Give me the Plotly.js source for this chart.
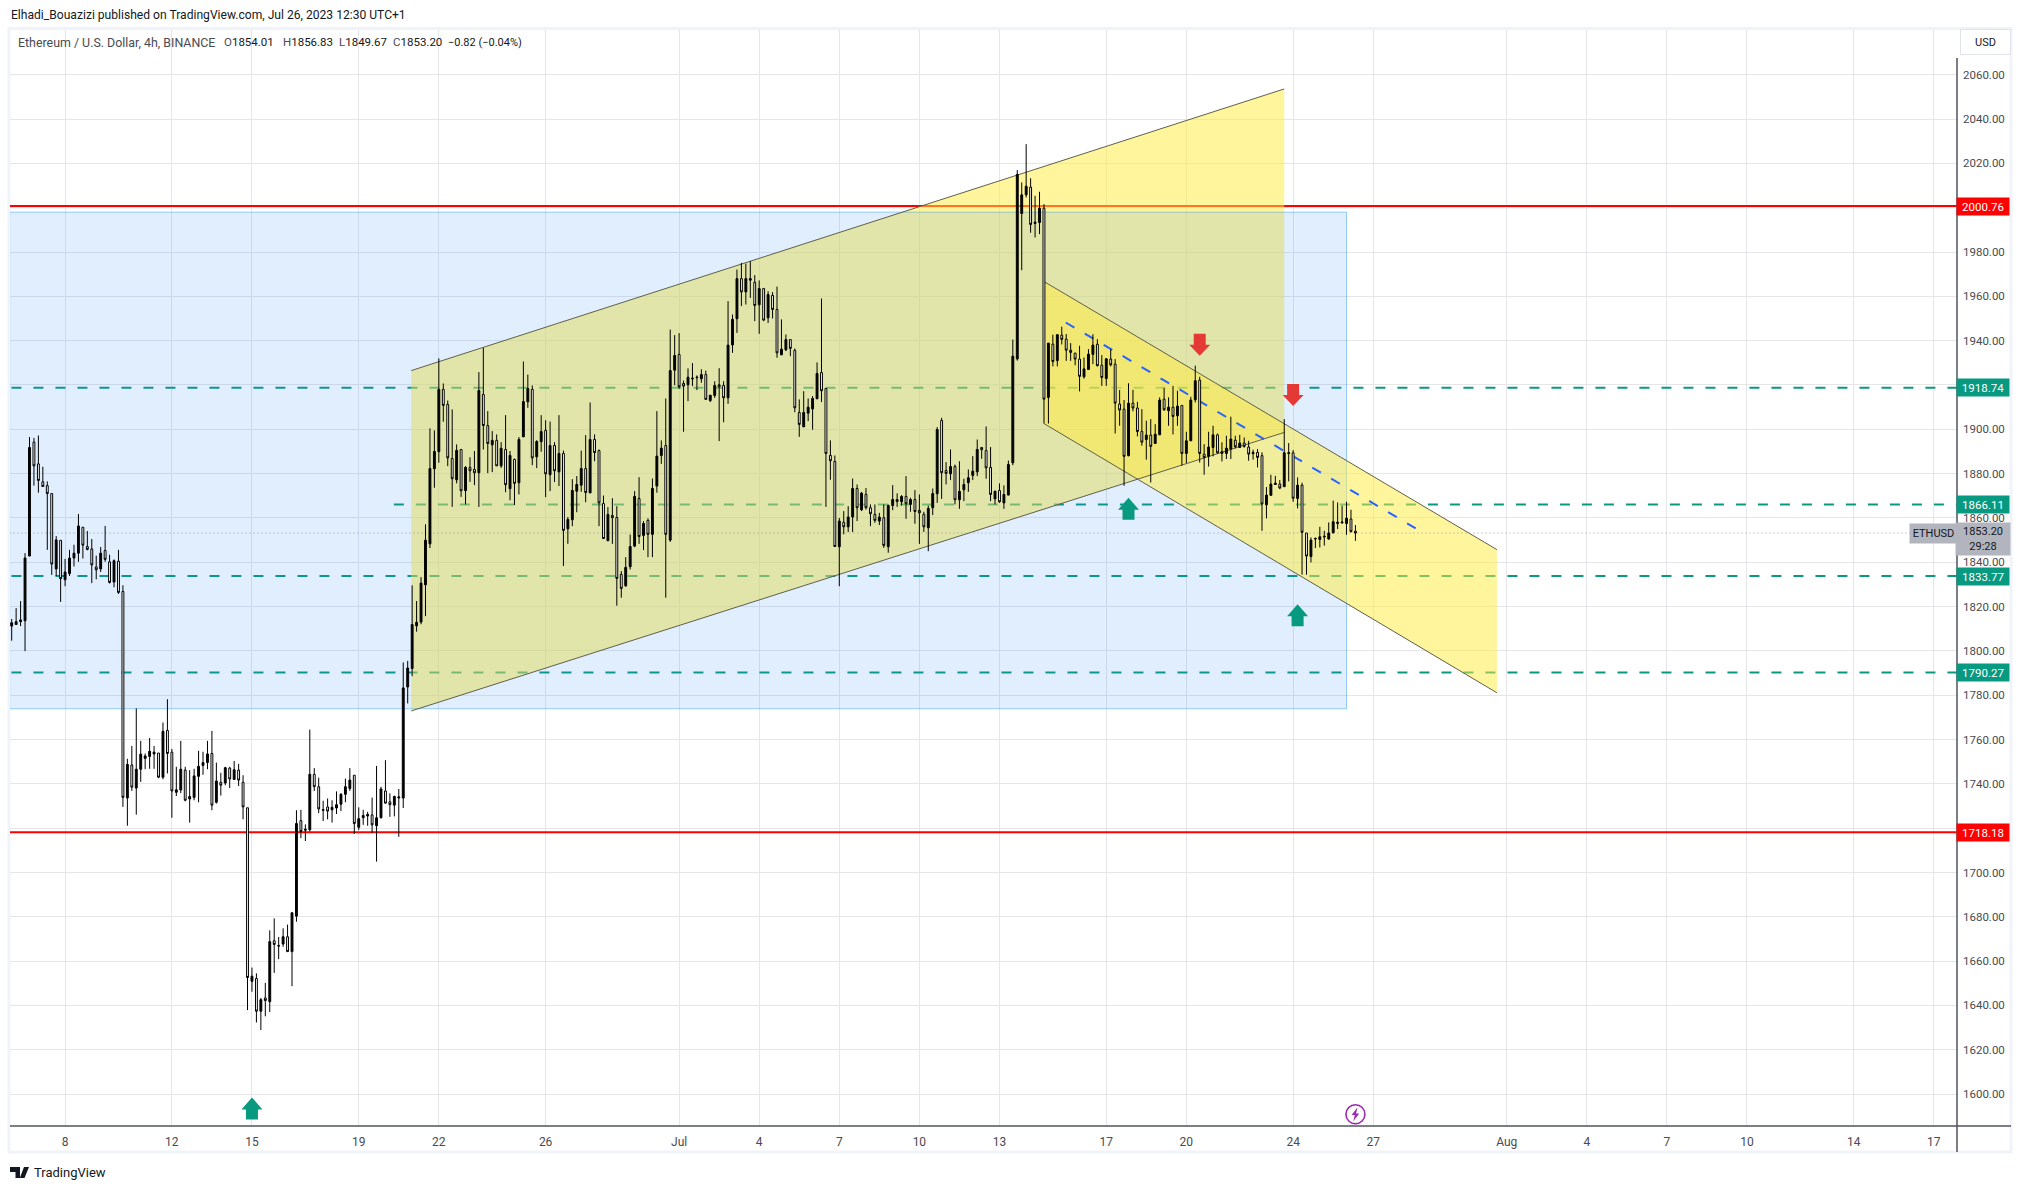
<!DOCTYPE html>
<html><head><meta charset="utf-8">
<script src="https://cdn.plot.ly/plotly-3.0.0.min.js"></script>
<style>html,body{margin:0;padding:0;background:#fff}#c{width:2023px;height:1189px}</style>
</head><body><div id="c"></div>
<script>
const opens=[1811.2,1811.9,1813.2,1813.6,1842.8,1894.2,1884.4,1876.3,1874.6,1871,
1837,1849.9,1832.1,1834.9,1841.9,1844.1,1855.8,1847.1,1846,1837.9,
1837,1845.3,1840.2,1831.1,1840.5,1826.8,1733.6,1748.5,1738.1,1746.6,
1751.5,1752.4,1753.5,1753.9,1743,1764.1,1754.3,1736.2,1737.2,1746.2,
1733.2,1733.9,1743.4,1748.3,1749.6,1753.7,1731.7,1740.7,1740.4,1747.1,
1742,1746.2,1740.7,1729.2,1650.9,1652.2,1637.4,1643.4,1641.7,1669.2,
1667.1,1667.7,1671,1664.3,1680.3,1723.4,1719.1,1719.3,1744.3,1738.7,
1728.4,1729.6,1728.3,1729.1,1730.8,1735.3,1737.9,1743.9,1720.4,1724.7,
1725.5,1726,1721.1,1724.7,1736.8,1731.9,1730.4,1733.6,1733.6,1783.7,
1792.1,1811.3,1813,1829.8,1848.3,1882.2,1889.9,1918,1911.2,1886.8,
1877.2,1890.9,1872.3,1882.8,1881.9,1880.4,1915.7,1901.7,1893,1895,
1883.5,1890.9,1873.2,1886.4,1875.9,1896.6,1912.4,1918,1887.6,1894.4,
1899.5,1879.5,1892.7,1880.8,1889.1,1855.1,1859.2,1872.1,1874.8,1882.3,
1871.3,1895.4,1890.4,1866.5,1849.7,1861.1,1860.2,1834.5,1829.4,1838,
1847.3,1868.8,1852.1,1858.9,1852.6,1874.4,1888.2,1892.7,1850,1926.7,
1933.8,1920.7,1920.1,1923.1,1923.3,1922.8,1924.7,1913,1915.3,1920.1,
1919.8,1914.2,1938.1,1949.9,1968,1962,1967.3,1966.3,1956.2,1963.5,
1950.3,1960.4,1954.1,1933.6,1935.9,1940.5,1935.6,1907.6,1901.1,1907.3,
1909.2,1913.8,1925.6,1918.4,1888.2,1885.5,1847,1858,1856,1860.4,
1873.3,1863.7,1870.6,1864.6,1861.6,1858.6,1860.1,1847,1865.6,1868.3,
1867.3,1869.7,1866.1,1868.3,1863.4,1861.6,1855.6,1864.6,1870.9,1904,
1881.4,1879.9,1883.2,1868.2,1872.7,1875.9,1879.2,1880.8,1891.8,1890.4,
1882.8,1868.6,1872.4,1866.8,1870.3,1884.9,1931.8,1997.4,2005.8,2009.3,
1992.9,1993.3,1999.8,1914.4,1938.4,1931,1942.5,1940.7,1935.7,1934.4,
1931.7,1923.7,1927,1933.8,1938.4,1928.9,1922.9,1931.7,1929.4,1911.4,
1909.1,1888.1,1911.8,1909.6,1899,1895.4,1897.4,1893.6,1897.5,1913.6,
1908.4,1910,1906.1,1910.8,1889.1,1894.8,1913.3,1922.2,1888.8,1887.8,
1891.8,1897.5,1889.1,1889.1,1891.1,1895.1,1891.8,1893.8,1892,1889,
1889.6,1888.1,1865.9,1870.2,1875.1,1875.3,1874.1,1889.1,1889.4,1868.8,
1874.8,1853.2,1842.6,1850.5,1850.3,1851.4,1850.5,1853.3,1857.5,1857.7,
1857.5,1859.5,1854.01];
const highs=[1814.4,1819.3,1822.5,1844.1,1896.5,1896.1,1897.2,1883.1,1876.5,1871,
1851.8,1849.9,1841.5,1845.6,1847.9,1861.8,1855.8,1854.1,1850.5,1843,
1846.9,1856.4,1843.4,1841.3,1845.6,1829.6,1751.3,1757.1,1774.1,1759.4,
1753.7,1760.7,1757.1,1753.9,1767.7,1778.2,1755.8,1747.7,1759.4,1747.7,
1746.2,1746.8,1754.9,1754.5,1759.4,1763.9,1749.6,1745,1747.7,1747.7,
1750.3,1749,1743.9,1729.2,1657.1,1654.5,1643.4,1650.2,1673.9,1679.3,
1670.9,1674.8,1676.5,1682.2,1728.1,1728.3,1721.7,1764.5,1747.1,1742.8,
1732.4,1733.4,1732.6,1736.6,1735.8,1742.4,1747.1,1743.9,1729.4,1728.3,
1727.4,1733.8,1748.1,1738.7,1750.7,1735.7,1734.7,1737.7,1794.8,1795.5,
1829.6,1822.5,1833.3,1857.1,1900.4,1899.5,1932,1920.7,1913,1909,
1893.2,1890.9,1883.4,1887.4,1890.2,1925.8,1936.8,1908.2,1899.2,1897.7,
1894.2,1906.4,1890.2,1886.8,1896.5,1930.6,1924.7,1919.8,1895.1,1906.4,
1904.1,1903.5,1894.2,1906.4,1890.4,1860.4,1877.5,1878.9,1890.4,1897.4,
1912.1,1897.7,1890.9,1870.1,1864.9,1868.9,1865.3,1836,1842.3,1852.5,
1872.1,1878.4,1858.6,1859.8,1877.8,1908.2,1895,1913.9,1945,1942.5,
1943.4,1922,1927.5,1929.9,1924.3,1927.1,1926.5,1915.4,1921.7,1927.6,
1921.7,1957.8,1951.8,1972.1,1975.1,1974.8,1975.9,1969.6,1967.2,1963.8,
1962.3,1961.9,1964.4,1949.6,1942.8,1940.5,1936.5,1913.5,1917.2,1913.9,
1915,1930.2,1959,1918.4,1895,1888.2,1860,1863.1,1865.3,1877.8,
1875.1,1871.7,1873.5,1866.1,1866.1,1862.3,1866.1,1866.1,1874.8,1871.1,
1870.3,1878.9,1869.1,1872.6,1870.6,1862.8,1865.6,1873.3,1901,1905.2,
1885.2,1890.9,1884.1,1885.6,1877.7,1881.9,1887.9,1895.4,1891.8,1901.3,
1892,1872.1,1875.6,1874.7,1885.9,1940.5,2017,2011.4,2028.7,2013.3,
2005.4,2007.2,2001.6,1938.9,1942.7,1942.7,1946.3,1943,1938.9,1934.4,
1937.7,1932.4,1936.2,1942.9,1940.7,1933.5,1932.1,1936.2,1931.7,1917.7,
1913.2,1920.8,1917.8,1912.4,1909.1,1903.9,1904.6,1902.3,1914.4,1918.7,
1914.4,1919.6,1917.4,1910.8,1898.9,1914.7,1928.7,1923.7,1893.3,1898.9,
1901.6,1898.1,1894.1,1897.1,1905.7,1897.1,1897.5,1896.3,1894.8,1890.8,
1891.1,1889.6,1874,1879.5,1879,1877.1,1904.6,1893.8,1890.6,1878.3,
1875.9,1853.2,1851.2,1851.2,1856,1854.2,1858,1867.8,1867,1865.5,
1867.3,1863.7,1856.83];
const lows=[1804.6,1811.9,1811.2,1799.9,1842.8,1874.6,1871.4,1874.2,1845.6,1834.3,
1833.8,1822.1,1829.2,1833.8,1838.1,1840.2,1841.7,1845.4,1830.6,1832.3,
1835.6,1840.2,1830.4,1828.7,1825.7,1729.6,1721.1,1736.8,1726.1,1740.9,
1746.6,1746.8,1746.8,1742.6,1742.1,1744.7,1724.7,1734.5,1735.8,1732.1,
1722.5,1732.6,1731.7,1744.1,1746.6,1728.1,1731.1,1734.7,1739.4,1738.1,
1742,1739,1724,1637.9,1646.2,1632.3,1628.9,1635.1,1637,1654.7,
1660.9,1666.5,1664.3,1648.7,1677.8,1715.5,1714.2,1718.5,1736.8,1726.8,
1723.2,1724,1722.5,1726.4,1727.7,1731.7,1736.8,1717.4,1719.1,1721.5,
1721.1,1717.9,1704.9,1724.4,1731.1,1725.1,1725.3,1716.1,1729.1,1776.3,
1788.6,1808.7,1812,1815.7,1846.4,1873.6,1884.9,1903.4,1883.4,1865,
1875.6,1869.5,1866.1,1876.3,1874.8,1865,1890.9,1880.2,1880.7,1883.5,
1882.6,1871.6,1868,1865.8,1870.6,1896.6,1909.7,1883.8,1882.5,1889.9,
1869.4,1872.1,1876.2,1874.4,1838.3,1848.3,1856.3,1862.6,1871.8,1867.1,
1871.3,1885.6,1856.3,1850.7,1849.7,1848.3,1820.4,1824,1828.9,1836.7,
1846.8,1848.3,1845.5,1842.3,1842.3,1871.4,1884.4,1824,1849.2,1919.9,
1918.3,1898.9,1912.7,1919.5,1917.7,1921,1913.5,1912.3,1914.2,1894.7,
1903.2,1911.5,1934.5,1943.5,1955.6,1956.3,1959.3,1948.8,1943.1,1948.8,
1948,1950,1932.3,1933.6,1935.3,1933,1907.7,1896.6,1901.1,1903.7,
1899.8,1913.6,1912.3,1865,1877.2,1847.1,1829.2,1852.6,1853.6,1853.6,
1858.6,1863.1,1863.8,1856.3,1857.8,1856.8,1846.5,1844.3,1863.5,1865,
1865.6,1859.6,1862.8,1857.4,1848.3,1853.7,1845,1861.3,1866.8,1868.6,
1875.1,1877.1,1866.1,1864.1,1867.6,1871.8,1877.1,1878.9,1886.7,1877.7,
1867.6,1866.1,1866.8,1864.1,1870.3,1883.8,1931,1971.8,2004.6,1988.7,
1986.6,1988.1,1902.6,1902.6,1928.4,1928.4,1938.3,1930.9,1930.9,1928.9,
1917.1,1922.9,1927,1929.4,1928.4,1919.6,1919.6,1928.4,1898.1,1901.6,
1874.5,1887.8,1908.1,1896.8,1892.6,1886.3,1876,1893.6,1897.5,1908.4,
1901.6,1897.7,1901.6,1883.6,1884.8,1894.8,1912.1,1885,1879.5,1883.2,
1887.8,1889.1,1885.5,1886.6,1886.6,1891.4,1891.8,1891.7,1885.8,1886.3,
1882.8,1854.2,1859.8,1870.2,1875.1,1873,1874.1,1876.5,1867.3,1864.3,
1834.4,1834.4,1839.9,1846.4,1846.7,1847.5,1850.2,1853,1855,1857.7,
1852.4,1853.5,1849.67];
const closes=[1812.7,1813.2,1814,1841.9,1891.8,1883.5,1876.9,1874.2,1871,1839.2,
1850.1,1832.6,1835.6,1841.9,1844.1,1856.4,1847.7,1845.8,1838.8,1836.6,
1844.1,1841.3,1830.9,1840.7,1826.4,1733.9,1748.8,1738.5,1746.6,1753.4,
1752.6,1754.7,1754.3,1743,1763.7,1753.7,1736.8,1737.3,1746.6,1732.6,
1734.3,1743.6,1747.9,1749.6,1753.5,1730.4,1741.3,1739.4,1747.3,1742.2,
1746.4,1741.7,1729.6,1652.6,1653.2,1637.4,1642.6,1642.2,1668.8,1667.5,
1666.8,1671,1664.3,1681.8,1722.1,1718.5,1719.5,1744.3,1738.7,1728.7,
1728.1,1727.7,1729.4,1730.6,1735.3,1738.7,1741.7,1722.1,1724.3,1725.7,
1726.2,1721.5,1724.7,1737.7,1731.3,1730.6,1734.3,1734.1,1783.3,1792.3,
1811.9,1812.9,1830.6,1850,1882.3,1890,1918,1910.8,1887.1,1877.7,
1890.5,1872.3,1882.8,1881.3,1880.4,1917.5,1901.7,1893.6,1895,1883.5,
1891.4,1875,1888.2,1875.6,1895.4,1912.5,1918.4,1887.1,1894.5,1899,
1879.9,1892.7,1881.3,1889.1,1854.4,1859.3,1872.4,1875.1,1882.3,1871.5,
1895.4,1889.5,1866.8,1850.7,1861.6,1860.1,1832.7,1828.2,1837.7,1847.1,
1869.7,1851.6,1857.5,1852.6,1873.3,1887.9,1891.5,1852.6,1926.5,1933.3,
1919.2,1919.5,1923.5,1922.8,1923.5,1924.7,1913.5,1915.4,1919.8,1919.2,
1914.2,1938,1949.6,1968,1962,1968,1968,1955.9,1963.5,1949.3,
1960.8,1954.1,1934.5,1936.2,1940.5,1936.5,1909.7,1902.2,1907.6,1910,
1913.9,1925.2,1917.4,1889.1,1885.8,1847.1,1858.6,1856,1860.4,1873.3,
1864.6,1871.2,1864.6,1861.9,1858.9,1860.4,1847.6,1865.6,1868.3,1867.4,
1869.7,1866.4,1868.3,1862.9,1862.3,1856,1864.3,1871,1899.9,1880.4,
1880.1,1883.2,1868.2,1872,1875.1,1878.1,1881.1,1890.9,1890.8,1882.6,
1870.6,1872.1,1867.3,1870.6,1884.1,1933,2015,2005.8,2009.7,1992.4,
1993.5,1999.8,1913.6,1938.9,1930.6,1942.7,1940.6,1935.7,1934.7,1931.7,
1923.9,1927.3,1933.9,1938,1928.7,1923.4,1931.8,1929.1,1911.8,1908.7,
1887.8,1911.8,1909.6,1899,1894.2,1897.4,1892.3,1897.8,1913.2,1908.8,
1910,1905.8,1910.5,1889.1,1894.8,1913.2,1921.9,1889.1,1887.3,1892,
1897.5,1889.4,1889.9,1891.5,1895.6,1892.1,1893.8,1892.3,1888.8,1889.6,
1887.3,1866.3,1870.3,1875.3,1875.7,1873.5,1889.4,1889.4,1868.9,1874.8,
1853.5,1842.8,1850,1850.7,1851.5,1851.7,1853.2,1858.3,1858.1,1858.1,
1859.9,1853.8,1853.2];

const firstBar=Date.UTC(2023,5,6,0,0);
const barTime=i=>new Date(firstBar+i*4*3600e3).toISOString().slice(0,19).replace('T',' ');
const pathTime=i=>barTime(i).replace(' ','_');
const times=opens.map((_,i)=>barTime(i));

const xTickVals=['2023-06-08','2023-06-12','2023-06-15','2023-06-19','2023-06-22','2023-06-26','2023-07-01','2023-07-04','2023-07-07','2023-07-10','2023-07-13','2023-07-17','2023-07-20','2023-07-24','2023-07-27','2023-08-01','2023-08-04','2023-08-07','2023-08-10','2023-08-14','2023-08-17'];
const xTickText=['8','12','15','19','22','26','Jul','4','7','10','13','17','20','24','27','Aug','4','7','10','14','17'];
const yTickVals=[1600,1620,1640,1660,1680,1700,1720,1740,1760,1780,1800,1820,1840,1860,1880,1900,1920,1940,1960,1980,2000,2020,2040,2060];
const yHiddenLabels=[1720,1920,2000];

const redLevels=[2000.76,1718.18];
const tealLevels=[1918.74,1866.11,1833.77,1790.27];
const tealStartBars=[-5,85.9,-5,-5];
const lastPrice=1853.20;

const riseChannel={bars:[89.8,286],top:[1926.5,2053.6],bottom:[1772.9,1898.6]};
const fallChannel={bars:[232,333.8],top:[1966.7,1845.7],bottom:[1902.6,1781.1]};
const fallMidBars=[236.9,315.8], fallMidPrices=[1948.2,1855];
const zoneBars=[-5,300], zonePrices=[1773.9,1998];

const upArrowBars=[54,251,289], upArrowTips=[1598.5,1869.1,1821.1];
const downArrowBars=[267,288], downArrowTops=[1943.1,1920.5];
const boltBar=302, boltPrice=1590.9;

// plot box, page pixels
const L=10,R=1957,T=30,B=1126,W=2023,H=1189;
const px=x=>(x-L)/(R-L), py=y=>(B-y)/(B-T);
const font='Roboto, "Liberation Sans", sans-serif';
const TEAL='#089981',RED='#ff0000',GRID='#e6e6ea',AXIS='#50535e',TXT='#4a4a4f',INK='#131722',EDGE='#5f5f4a';

const hline=(p,color,dash,w,bar)=>({type:'line',layer:'between',xref:'x',yref:'y',x0:barTime(bar),x1:barTime(440),y0:p,y1:p,line:{color,width:w,dash}});
const poly=(ch)=>({type:'path',layer:'between',xref:'x',yref:'y',line:{width:0},fillcolor:'rgba(255,235,59,0.5)',
  path:`M ${pathTime(ch.bars[0])} ${ch.top[0]} L ${pathTime(ch.bars[1])} ${ch.top[1]} L ${pathTime(ch.bars[1])} ${ch.bottom[1]} L ${pathTime(ch.bars[0])} ${ch.bottom[0]} Z`});
const edge=(ch,arr)=>({type:'line',layer:'between',xref:'x',yref:'y',x0:barTime(ch.bars[0]),x1:barTime(ch.bars[1]),y0:arr[0],y1:arr[1],line:{color:EDGE,width:1}});
const arrowUp=(bar,tip,color)=>({type:'path',layer:'above',xref:'x',yref:'y',xsizemode:'pixel',ysizemode:'pixel',xanchor:barTime(bar),yanchor:tip,line:{width:0},fillcolor:color,
  path:'M 0 0 L 10.5 -12 L 6 -12 L 6 -22 L -6 -22 L -6 -12 L -10.5 -12 Z'});
const arrowDown=(bar,top,color)=>({type:'path',layer:'above',xref:'x',yref:'y',xsizemode:'pixel',ysizemode:'pixel',xanchor:barTime(bar),yanchor:top,line:{width:0},fillcolor:color,
  path:'M -6 0 L 6 0 L 6 -11 L 10.5 -11 L 0 -22 L -10.5 -11 L -6 -11 Z'});

const shapes=[
  {type:'rect',layer:'below',xref:'paper',yref:'paper',x0:px(9),x1:px(2011),y0:py(1152),y1:py(28.5),line:{color:'#f0f3fa',width:3},fillcolor:'rgba(0,0,0,0)'},
  ...redLevels.map(p=>hline(p,RED,'solid',2,-5)),
  ...tealLevels.map((p,i)=>hline(p,TEAL,'10px,12px',2,tealStartBars[i])),
  poly(riseChannel),
  {type:'rect',layer:'between',xref:'x',yref:'y',x0:barTime(zoneBars[0]),x1:barTime(zoneBars[1]),y0:zonePrices[0],y1:zonePrices[1],fillcolor:'rgba(41,133,248,0.14)',line:{color:'rgba(33,150,243,0.45)',width:1}},
  poly(fallChannel),
  edge(riseChannel,riseChannel.top),edge(riseChannel,riseChannel.bottom),
  edge(fallChannel,fallChannel.top),edge(fallChannel,fallChannel.bottom),
  {type:'line',layer:'between',xref:'x',yref:'y',x0:barTime(fallMidBars[0]),x1:barTime(fallMidBars[1]),y0:fallMidPrices[0],y1:fallMidPrices[1],line:{color:'#2962ff',width:2,dash:'10px,12px'}},
  hline(lastPrice,'#9598a1','1px,3px',1,-5),
  {type:'line',layer:'above',xref:'paper',yref:'paper',x0:1,x1:1,y0:py(1152),y1:py(58),line:{color:AXIS,width:1.5}},
  {type:'line',layer:'above',xref:'paper',yref:'paper',x0:0,x1:px(2011),y0:0,y1:0,line:{color:AXIS,width:1.5}},
  ...upArrowBars.map((b,i)=>arrowUp(b,upArrowTips[i],TEAL)),
  ...downArrowBars.map((b,i)=>arrowDown(b,downArrowTops[i],'#e53935')),
  // TradingView logo
  {type:'path',layer:'above',xref:'paper',yref:'paper',xsizemode:'pixel',ysizemode:'pixel',xanchor:px(10),yanchor:py(1178),line:{width:0},fillcolor:'#131722',
   path:'M 0 11 L 10 11 L 10 0 L 5.5 0 L 5.5 6 L 0 6 Z M 11.5 6 A 2 2 0 1 1 11.49 6 Z M 14 11 L 19 11 L 14.5 0 L 9.8 0 Z'},
  // lightning bolt inside the marker circle
  {type:'path',layer:'above',xref:'x',yref:'y',xsizemode:'pixel',ysizemode:'pixel',xanchor:barTime(boltBar),yanchor:boltPrice,line:{width:0},fillcolor:'#9c27b0',
   path:'M 2.2 7 L -3.8 -0.8 L -0.6 -0.8 L -2.2 -7 L 3.8 0.8 L 0.6 0.8 Z'},
];

const tag=(price,text,bg)=>({xref:'paper',yref:'y',x:px(1983),y:price,text,showarrow:false,xanchor:'center',yanchor:'middle',
  width:52,height:17,bgcolor:bg,borderpad:0,font:{family:font,size:11.5,color:'#fff'}});
const plain=(x,y,text,color,size,anchor)=>({xref:'paper',yref:'paper',x:px(x),y:py(y),text,showarrow:false,xanchor:anchor||'left',yanchor:'middle',font:{family:font,size:size||11.5,color}});

const annotations=[
  plain(9,15,'Elhadi_Bouazizi published on TradingView.com, Jul 26, 2023 12:30 UTC+1',INK,12.1),
  plain(16,42,'Ethereum / U.S. Dollar, 4h, BINANCE',TXT,12.4),
  plain(222,42,`<span style="color:${TXT}">O</span>1854.01`,INK,11.5),
  plain(281,42,`<span style="color:${TXT}">H</span>1856.83`,INK,11.5),
  plain(337,42,`<span style="color:${TXT}">L</span>1849.67`,INK,11.5),
  plain(391,42,`<span style="color:${TXT}">C</span>1853.20`,INK,11.5),
  plain(446,42,'−0.82 (−0.04%)',INK,11),
  plain(32,1172,'TradingView',INK,13),
  {xref:'paper',yref:'paper',x:px(1985),y:py(42.5),text:'USD',showarrow:false,xanchor:'center',yanchor:'middle',width:47,height:22,bgcolor:'#fff',bordercolor:'#e0e3eb',borderwidth:1,font:{family:font,size:11,color:INK}},
  ...redLevels.map(p=>tag(p,p.toFixed(2),RED)),
  ...tealLevels.map(p=>tag(p,p.toFixed(2),TEAL)),
  {xref:'paper',yref:'y',x:px(1983),y:lastPrice,yshift:-6,text:lastPrice.toFixed(2)+'<br>29:28',showarrow:false,xanchor:'center',yanchor:'middle',width:52,height:30,bgcolor:'#b2b5be',font:{family:font,size:11,color:INK}},
  {xref:'paper',yref:'y',x:px(1933),y:lastPrice,text:'ETHUSD',showarrow:false,xanchor:'center',yanchor:'middle',width:45,height:17,bgcolor:'#b2b5be',font:{family:font,size:11,color:INK}},
];

const data=[
 {type:'candlestick',x:times,open:opens,high:highs,low:lows,close:closes,whiskerwidth:0,hoverinfo:'skip',
  increasing:{line:{color:'#000',width:1},fillcolor:'#000'},
  decreasing:{line:{color:'#000',width:1},fillcolor:'#fff'}},
 {type:'scatter',mode:'markers',x:[barTime(boltBar)],y:[boltPrice],hoverinfo:'skip',showlegend:false,
  marker:{symbol:'circle-open',size:19,color:'#9c27b0',line:{width:1.6,color:'#9c27b0'}}}
];

const layout={
 width:W,height:H,margin:{l:L,r:W-R,t:T,b:H-B,pad:0},paper_bgcolor:'#fff',plot_bgcolor:'#fff',showlegend:false,boxgap:0.4,
 xaxis:{type:'date',range:[barTime(-0.38),barTime(437.2)],tickmode:'array',tickvals:xTickVals,ticktext:xTickText,showgrid:true,gridcolor:GRID,gridwidth:1,zeroline:false,showline:false,ticks:'',
   tickfont:{family:font,size:12,color:TXT},rangeslider:{visible:false},ticklabelstandoff:7},
 yaxis:{side:'right',range:[1585.6,2080.2],tickmode:'array',tickvals:yTickVals,ticktext:yTickVals.map(v=>yHiddenLabels.includes(v)?'':v.toFixed(2)),showgrid:true,gridcolor:GRID,gridwidth:1,zeroline:false,showline:false,ticks:'',
   tickfont:{family:font,size:11.5,color:TXT},ticklabelstandoff:5},
 shapes,annotations
};
Plotly.newPlot('c',data,layout,{staticPlot:true,displayModeBar:false});
</script></body></html>
